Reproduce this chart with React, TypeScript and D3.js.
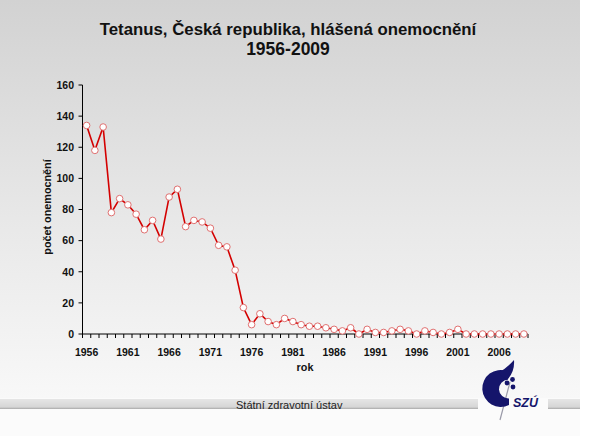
import React from 'react';
import * as d3 from 'd3';

const years = [
  1956, 1957, 1958, 1959, 1960, 1961, 1962, 1963, 1964, 1965,
  1966, 1967, 1968, 1969, 1970, 1971, 1972, 1973, 1974, 1975,
  1976, 1977, 1978, 1979, 1980, 1981, 1982, 1983, 1984, 1985,
  1986, 1987, 1988, 1989, 1990, 1991, 1992, 1993, 1994, 1995,
  1996, 1997, 1998, 1999, 2000, 2001, 2002, 2003, 2004, 2005,
  2006, 2007, 2008, 2009,
];
const cases = [
  134, 118, 133, 78, 87, 83, 77, 67, 73, 61,
  88, 93, 69, 73, 72, 68, 57, 56, 41, 17,
  6, 13, 8, 6, 10, 8, 6, 5, 5, 4,
  3, 2, 4, 0, 3, 1, 1, 2, 3, 2,
  0, 2, 1, 0, 1, 3, 0, 0, 0, 0,
  0, 0, 0, 0,
];
const xLabelYears = [1956, 1961, 1966, 1971, 1976, 1981, 1986, 1991, 1996, 2001, 2006];
const yTicks = [0, 20, 40, 60, 80, 100, 120, 140, 160];

const titleLines = ['Tetanus, Česká republika, hlášená onemocnění', '1956-2009'];
const yAxisTitle = 'počet onemocnění';
const xAxisTitle = 'rok';
const footerText = 'Státní zdravotní ústav';

export default function App() {
  const x = d3.scaleBand<number>().domain(years).range([82.5, 528]).padding(0);
  const y = d3.scaleLinear().domain([0, 160]).range([334, 85]);
  const cx = (yr: number) => (x(yr) as number) + x.bandwidth() / 2;
  const pts = years.map((yr, i) => ({ yr, v: cases[i] }));
  const line = d3
    .line<{ yr: number; v: number }>()
    .x((d) => cx(d.yr))
    .y((d) => y(d.v));
  const font = 'Arial, "Liberation Sans", sans-serif';
  const x0 = 82.5;
  const xEnd = 528;
  const y0 = y(0);
  const boundaries = years.map((yr) => x(yr) as number).concat([xEnd]);

  return (
    <svg
      width={602}
      height={436}
      style={{ position: 'absolute', left: 0, top: 0, background: '#ffffff' }}
      fontFamily={font}
    >
      <defs>
        <linearGradient id="bg" x1="0" y1="0" x2="0" y2="1">
          <stop offset="0" stopColor="#d2d2d2" />
          <stop offset="0.55" stopColor="#e8e8e8" />
          <stop offset="1" stopColor="#f8f8f8" />
        </linearGradient>
        <linearGradient id="bar" x1="0" y1="0" x2="0" y2="1">
          <stop offset="0" stopColor="#e6e6e6" />
          <stop offset="0.8" stopColor="#d6d6d6" />
          <stop offset="1" stopColor="#a8a8a8" />
        </linearGradient>
      </defs>
      <rect x={0} y={0} width={580} height={398} fill="url(#bg)" />
      <rect x={0} y={398} width={580} height={38} fill="#fbfbfb" />

      {/* title */}
      <text x={288} y={35} textAnchor="middle" fontWeight="bold" fontSize={16.8} fill="#111">
        {titleLines[0]}
      </text>
      <text x={288} y={54.5} textAnchor="middle" fontWeight="bold" fontSize={17.5} fill="#111">
        {titleLines[1]}
      </text>

      {/* y axis */}
      <line x1={x0} x2={x0} y1={y(160)} y2={y0} stroke="#000" strokeWidth={1} />
      {yTicks.map((t) => (
        <g key={t}>
          <line x1={x0 - 4} x2={x0} y1={y(t)} y2={y(t)} stroke="#000" strokeWidth={1} />
          <text x={x0 - 8.5} y={y(t) + 3.8} textAnchor="end" fontWeight="bold" fontSize={10.5} fill="#111">
            {t}
          </text>
        </g>
      ))}
      <text
        transform={`translate(${51}, ${207}) rotate(-90)`}
        textAnchor="middle"
        fontWeight="bold"
        fontSize={10.8}
        fill="#111"
      >
        {yAxisTitle}
      </text>

      {/* x axis */}
      <line x1={x0} x2={xEnd} y1={y0} y2={y0} stroke="#000" strokeWidth={1} />
      {boundaries.map((b, i) => (
        <line key={i} x1={b} x2={b} y1={y0} y2={y0 + 4} stroke="#000" strokeWidth={1} />
      ))}
      {xLabelYears.map((yr) => (
        <text key={yr} x={cx(yr)} y={355.5} textAnchor="middle" fontWeight="bold" fontSize={10.5} fill="#111">
          {yr}
        </text>
      ))}
      <text x={305} y={370.5} textAnchor="middle" fontWeight="bold" fontSize={10.8} fill="#111">
        {xAxisTitle}
      </text>

      {/* series */}
      <path d={line(pts) || ''} fill="none" stroke="#d40000" strokeWidth={1.6} />
      {pts.map((d) => (
        <circle key={d.yr} cx={cx(d.yr)} cy={y(d.v)} r={3.3} fill="#ffffff" stroke="#e07070" strokeWidth={1} />
      ))}

      {/* footer bar */}
      <rect x={0} y={399} width={478} height={10} fill="url(#bar)" />
      <rect x={548} y={399} width={32} height={10} fill="url(#bar)" />
      <text x={236} y={408.5} fontSize={11} fill="#222">
        {footerText}
      </text>

      {/* logo */}
      <g>
        <line x1={510} y1={382} x2={500} y2={420} stroke="#9a9aa8" strokeWidth={1.2} />
        <path
          d="M 507 371 A 18.5 18.5 0 1 0 509 405 L 509 398.5 A 9.5 9.5 0 1 1 508 379.5 Z"
          fill="#15156b"
        />
        <path d="M 498 373 Q 507 368 514 360 Q 515 372 507 380 Z" fill="#15156b" />
        <circle cx={507} cy={383} r={2.4} fill="#15156b" />
        <circle cx={512.5} cy={379.5} r={2.4} fill="#15156b" />
        <circle cx={513} cy={387} r={2.4} fill="#15156b" />
        <text
          x={513}
          y={407}
          fontWeight="bold"
          fontStyle="italic"
          fontSize={12.5}
          fill="#15156b"
        >
          SZÚ
        </text>
      </g>
    </svg>
  );
}
